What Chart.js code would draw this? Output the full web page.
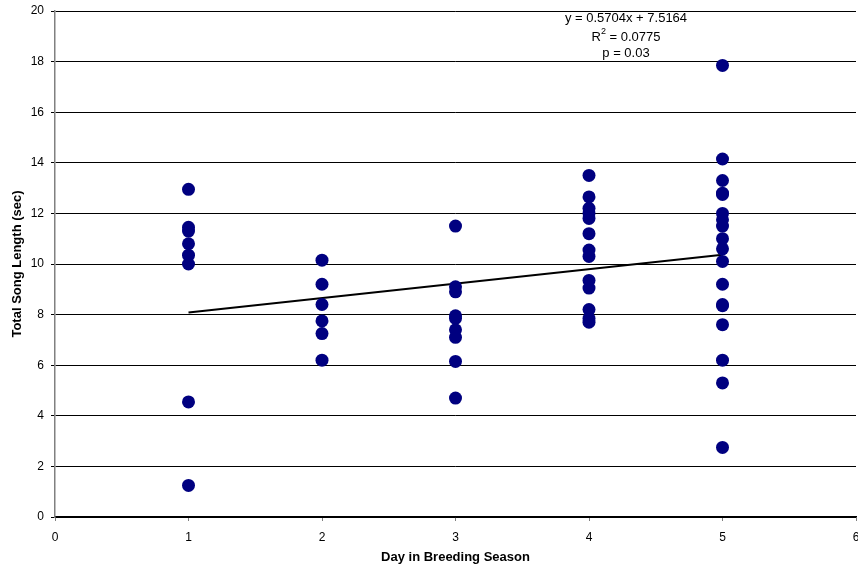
<!DOCTYPE html>
<html>
<head>
<meta charset="utf-8">
<script src="https://cdn.jsdelivr.net/npm/chart.js@4"></script>
<style>
  html, body { margin: 0; padding: 0; background: #fff; }
  #wrap { width: 858px; height: 571px; position: relative; }
</style>
</head>
<body>
<div id="wrap"><canvas id="c" width="858" height="571"></canvas></div>
<script>
// Total song length (sec) recorded on each day of the breeding season
const days = [1, 2, 3, 4, 5];
const day1Lengths = [12.95, 11.45, 11.3, 10.8, 10.35, 10.0, 4.55, 1.25];
const day2Lengths = [10.15, 9.2, 8.4, 7.75, 7.25, 6.2];
const day3Lengths = [11.5, 9.1, 8.9, 7.95, 7.85, 7.4, 7.1, 6.15, 4.7];
const day4Lengths = [13.5, 12.65, 12.2, 12.0, 11.8, 11.2, 10.55, 10.3, 9.35, 9.05, 8.2, 7.85, 7.7];
const day5Lengths = [17.85, 14.15, 13.3, 12.8, 12.75, 12.0, 11.75, 11.5, 11.0, 10.6, 10.1, 9.2, 8.4, 8.35, 7.6, 6.2, 5.3, 2.75];

// Linear fit reported on the chart
const fitSlope = 0.5704;
const fitIntercept = 7.5164;
const fitR2 = '0.0775';
const fitP = '0.03';

const xTicks = [0, 1, 2, 3, 4, 5, 6];
const yTicks = [0, 2, 4, 6, 8, 10, 12, 14, 16, 18, 20];

const groups = [day1Lengths, day2Lengths, day3Lengths, day4Lengths, day5Lengths];
const points = [];
groups.forEach((vals, i) => vals.forEach(v => points.push({ x: days[i], y: v })));

const fitLine = [days[0], days[days.length - 1]].map(x => ({ x: x, y: fitSlope * x + fitIntercept }));

const FONT = "'Liberation Sans', Arial, sans-serif";

// Regression equation, R² and p printed above the data
const fitLabel = {
  id: 'fitLabel',
  afterDraw(chart) {
    const ctx = chart.ctx;
    const cx = 626;
    ctx.save();
    ctx.fillStyle = '#000';
    ctx.textBaseline = 'middle';
    ctx.font = '13px ' + FONT;
    ctx.textAlign = 'center';
    ctx.fillText('y = ' + fitSlope + 'x + ' + fitIntercept, cx, 18);
    // R² with a raised small 2
    const a = 'R', b = ' = ' + fitR2;
    const wa = ctx.measureText(a).width, wb = ctx.measureText(b).width;
    ctx.font = '9px ' + FONT;
    const ws = ctx.measureText('2').width;
    const x0 = cx - (wa + ws + wb) / 2;
    ctx.textAlign = 'left';
    ctx.font = '13px ' + FONT;
    ctx.fillText(a, x0, 37);
    ctx.font = '9px ' + FONT;
    ctx.fillText('2', x0 + wa, 32);
    ctx.font = '13px ' + FONT;
    ctx.fillText(b, x0 + wa + ws, 37);
    ctx.textAlign = 'center';
    ctx.fillText('p = ' + fitP, cx, 53);
    ctx.restore();
  }
};

new Chart(document.getElementById('c'), {
  type: 'scatter',
  data: {
    datasets: [
      {
        data: fitLine,
        type: 'line',
        borderColor: '#000',
        borderWidth: 2,
        pointRadius: 0,
        fill: false,
        order: 2
      },
      {
        data: points,
        backgroundColor: '#000080',
        borderColor: '#000080',
        pointRadius: 6.5,
        pointHoverRadius: 6.5,
        borderWidth: 0,
        order: 1
      }
    ]
  },
  options: {
    responsive: false,
    animation: false,
    events: [],
    layout: { autoPadding: false, padding: { top: 11, right: 2, left: 0, bottom: 0 } },
    plugins: { legend: { display: false }, tooltip: { enabled: false } },
    scales: {
      x: {
        type: 'linear',
        min: 0, max: 6,
        afterBuildTicks: s => { s.ticks = xTicks.map(v => ({ value: v })); },
        afterFit: s => { s.height = 54; s.paddingLeft = 0; s.paddingRight = 0; },
        grid: { drawOnChartArea: false, drawTicks: true, tickLength: 4, color: '#808080' },
        border: { color: '#000', width: 1.5 },
        ticks: { color: '#000', font: { family: FONT, size: 12 }, padding: 9, maxRotation: 0 },
        title: { display: true, text: 'Day in Breeding Season', color: '#000', font: { family: FONT, size: 13, weight: 'bold' }, padding: { top: 8, bottom: 6 } }
      },
      y: {
        type: 'linear',
        min: 0, max: 20,
        afterBuildTicks: s => { s.ticks = yTicks.map(v => ({ value: v })); },
        afterFit: s => { s.width = 55; s.paddingTop = 0; s.paddingBottom = 0; },
        grid: { color: '#000', lineWidth: 1, tickLength: 4, drawTicks: true },
        border: { color: '#808080', width: 1.5 },
        ticks: { color: '#000', font: { family: FONT, size: 12 }, padding: 7 },
        title: { display: true, text: 'Total Song Length (sec)', color: '#000', font: { family: FONT, size: 13, weight: 'bold' }, padding: { top: 10, bottom: 4 } }
      }
    }
  },
  plugins: [fitLabel]
});
</script>
</body>
</html>
